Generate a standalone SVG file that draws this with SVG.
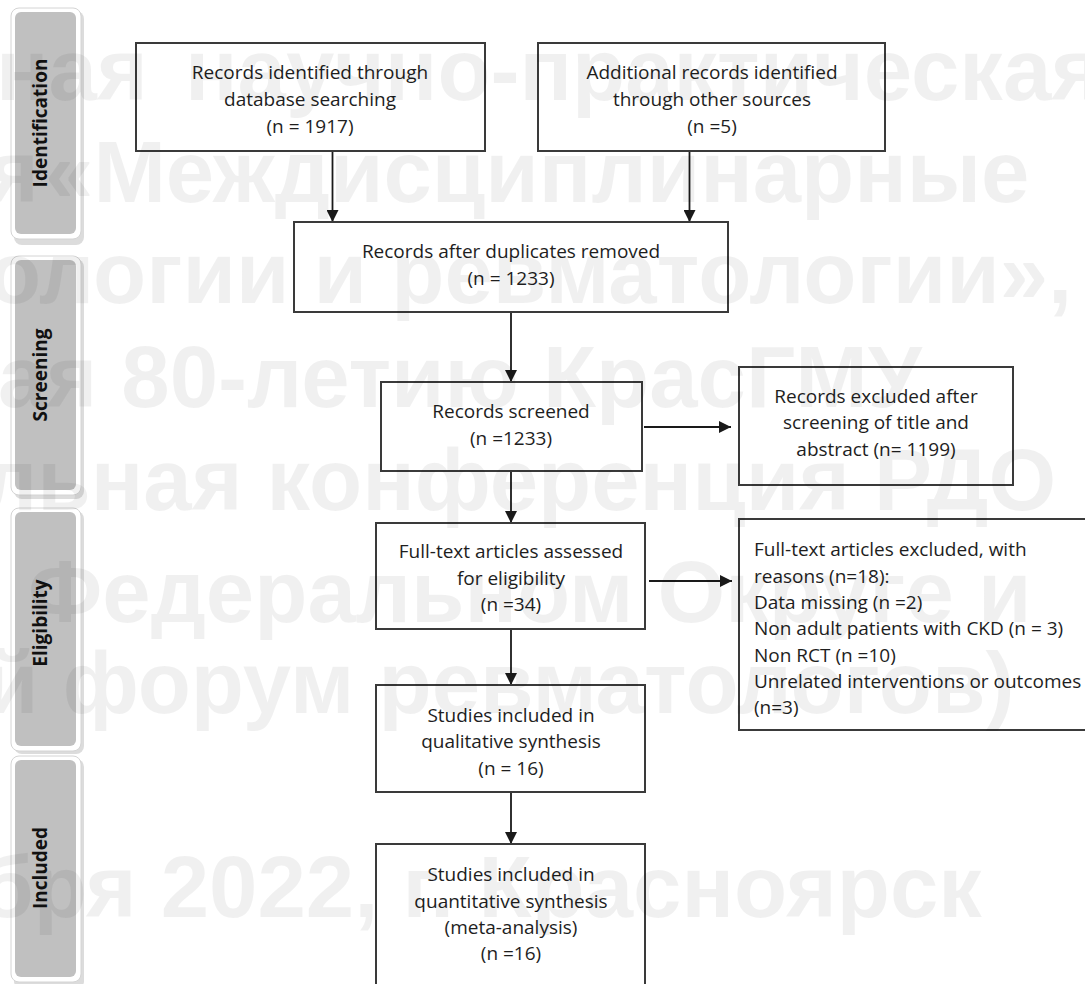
<svg xmlns="http://www.w3.org/2000/svg" width="1085" height="984" viewBox="0 0 1085 984">
<style>
.box{fill:none;stroke:#3a3a3a;stroke-width:2}
.t{font-family:"Open Sans","Noto Sans","Liberation Sans",sans-serif;font-size:19px;fill:#1e1e1e}
.c{text-anchor:middle}
.ph{font-family:"Open Sans","Liberation Sans",sans-serif;font-weight:700;font-size:19px;fill:#111;text-anchor:middle}
.frame{fill:#fff;stroke:#d4d4d4;stroke-width:1}
.shadow{fill:#dcdcdc}
.bar{fill:#c0c0c0}
.conn{stroke:#1a1a1a;stroke-width:1.8;fill:none;marker-end:url(#ah)}
.wm{font-family:"Liberation Sans","Arial",sans-serif;font-weight:700;font-size:87px;fill:#000;fill-opacity:0.06}
</style>
<defs>
<marker id="ah" markerUnits="userSpaceOnUse" markerWidth="12" markerHeight="12" viewBox="0 0 12 12" refX="12" refY="6" orient="auto">
<path d="M0,0 L12,6 L0,12 z" fill="#1a1a1a"/>
</marker>
</defs>
<rect width="1085" height="984" fill="#fff"/>

<g id="phase-identification">
<rect class="shadow" x="14" y="11" width="70" height="234" rx="8"/>
<rect class="frame" x="11" y="8" width="70" height="231" rx="8"/>
<rect class="bar" x="15" y="12" width="61" height="222" rx="6"/>
<text class="ph" transform="translate(47,123) rotate(-90)">Identification</text>
</g>
<g id="phase-screening">
<rect class="shadow" x="14" y="259" width="70" height="240" rx="8"/>
<rect class="frame" x="11" y="256" width="70" height="239" rx="8"/>
<rect class="bar" x="15" y="260" width="61" height="230" rx="6"/>
<text class="ph" transform="translate(47,375) rotate(-90)">Screening</text>
</g>
<g id="phase-eligibility">
<rect class="shadow" x="14" y="511" width="70" height="243" rx="8"/>
<rect class="frame" x="11" y="508" width="70" height="243" rx="8"/>
<rect class="bar" x="15" y="512" width="61" height="234" rx="6"/>
<text class="ph" transform="translate(47,623) rotate(-90)">Eligibility</text>
</g>
<g id="phase-included">
<rect class="shadow" x="14" y="759" width="70" height="230" rx="8"/>
<rect class="frame" x="11" y="756" width="70" height="226" rx="8"/>
<rect class="bar" x="15" y="760" width="61" height="217" rx="6"/>
<text class="ph" transform="translate(47,868) rotate(-90)">Included</text>
</g>

<g id="connectors">
<line class="conn" x1="332.5" y1="151" x2="332.5" y2="222"/>
<line class="conn" x1="689.5" y1="151" x2="689.5" y2="222"/>
<line class="conn" x1="511" y1="312" x2="511" y2="382"/>
<line class="conn" x1="511" y1="471" x2="511" y2="523"/>
<path class="conn" d="M644,427 H731"/>
<line class="conn" x1="649" y1="581" x2="732" y2="581"/>
<line class="conn" x1="511" y1="629" x2="511" y2="685"/>
<line class="conn" x1="511" y1="792" x2="511" y2="844"/>
</g>

<g id="node-database">
<rect class="box" x="136" y="43" width="349" height="108"/>
<text class="t c" x="310" y="79">Records identified through</text>
<text class="t c" x="310" y="106">database searching</text>
<text class="t c" x="310" y="133">(n = 1917)</text>
</g>
<g id="node-other-sources">
<rect class="box" x="538" y="43" width="347" height="108"/>
<text class="t c" x="712" y="79">Additional records identified</text>
<text class="t c" x="712" y="106">through other sources</text>
<text class="t c" x="712" y="133">(n =5)</text>
</g>
<g id="node-duplicates">
<rect class="box" x="294" y="222" width="434" height="90"/>
<text class="t c" x="511" y="258">Records after duplicates removed</text>
<text class="t c" x="511" y="285">(n = 1233)</text>
</g>
<g id="node-screened">
<rect class="box" x="381" y="382" width="261" height="89"/>
<text class="t c" x="511" y="418">Records screened</text>
<text class="t c" x="511" y="445">(n =1233)</text>
</g>
<g id="node-excluded-screening">
<rect class="box" x="739" y="367" width="274" height="118"/>
<text class="t c" x="876" y="403">Records excluded after</text>
<text class="t c" x="876" y="429">screening of title and</text>
<text class="t c" x="876" y="456">abstract (n= 1199)</text>
</g>
<g id="node-fulltext">
<rect class="box" x="376" y="523" width="269" height="106"/>
<text class="t c" x="511" y="558">Full-text articles assessed</text>
<text class="t c" x="511" y="585">for eligibility</text>
<text class="t c" x="511" y="611">(n =34)</text>
</g>
<g id="node-excluded-fulltext">
<rect class="box" x="739" y="519" width="360" height="211"/>
<text class="t" x="754" y="556">Full-text articles excluded, with</text>
<text class="t" x="754" y="583">reasons (n=18):</text>
<text class="t" x="754" y="609">Data missing (n =2)</text>
<text class="t" x="754" y="635">Non adult patients with CKD (n = 3)</text>
<text class="t" x="754" y="662">Non RCT (n =10)</text>
<text class="t" x="754" y="688">Unrelated interventions or outcomes</text>
<text class="t" x="754" y="714">(n=3)</text>
</g>
<g id="node-qualitative">
<rect class="box" x="376" y="685" width="269" height="107"/>
<text class="t c" x="511" y="722">Studies included in</text>
<text class="t c" x="511" y="748">qualitative synthesis</text>
<text class="t c" x="511" y="775">(n = 16)</text>
</g>
<g id="node-quantitative">
<rect class="box" x="376" y="844" width="269" height="160"/>
<text class="t c" x="511" y="881">Studies included in</text>
<text class="t c" x="511" y="908">quantitative synthesis</text>
<text class="t c" x="511" y="934">(meta-analysis)</text>
<text class="t c" x="511" y="960">(n =16)</text>
</g>

<g id="watermark">
<text class="wm" y="100"><tspan x="-4">ная</tspan><tspan x="185">научно-практическая</tspan></text>
<text class="wm" y="202"><tspan x="-12">я</tspan><tspan x="45">«Междисциплинарные</tspan></text>
<text class="wm" x="-12" y="303">ологии и ревматологии»,</text>
<text class="wm" x="-2" y="407">ая 80-летию КрасГМУ</text>
<text class="wm" x="-18" y="510">льная конференция РДО</text>
<text class="wm" x="28" y="622">Федеральном Округе и</text>
<text class="wm" x="-15" y="713">й форум ревматологов)</text>
<text class="wm" x="-20" y="917">бря 2022, г. Красноярск</text>
</g>
</svg>
